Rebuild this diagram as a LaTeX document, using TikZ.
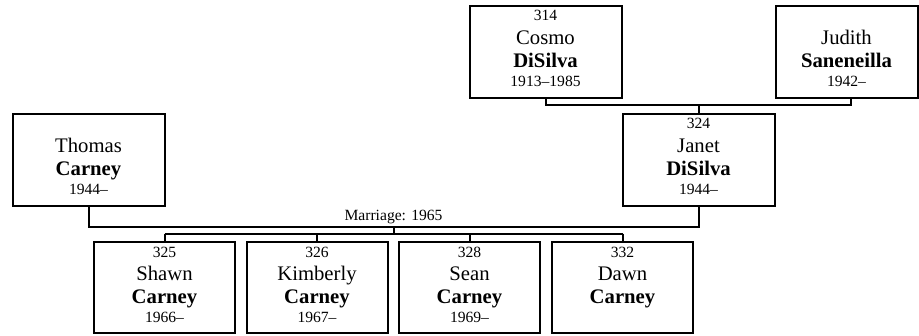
\documentclass[tikz,border=0pt]{standalone}
\usepackage{fontspec}
\setmainfont{Liberation Serif}
\usetikzlibrary{calc}

\newcommand\person[6][]{%
  \node[personbox,#1] (#2) at (#3) {};
  \node[smalltext] (#2-num) at ([yshift=-16]#2.north) {#4};
  \node[nametext] (#2-first) at ([yshift=-39.5]#2.north) {#5};
  \node[nametext,font=\namesize\bfseries] (#2-last) at ([yshift=-62.5]#2.north) {#6};
}
\newcommand\namesize{\fontsize{20.7}{24}\selectfont}
\newcommand\smallsize{\fontsize{15.6}{18}\selectfont}

\begin{document}
\begin{tikzpicture}[
  x=1pt,
  y=-1pt,
  line/.style={draw=black,line width=2pt},
  link/.style={line},
  personbox/.style={line,minimum width=152pt,minimum height=92pt,inner sep=0pt},
  childbox/.style={minimum width=141pt,minimum height=91pt},
  smalltext/.style={anchor=base,inner sep=0pt,font=\smallsize},
  nametext/.style={anchor=base,inner sep=0pt,font=\namesize}
]
\useasboundingbox (0,0) rectangle (919,335);

% Grandparents
\person{cosmo}{545.5,51.5}{314}{Cosmo}{DiSilva}
\node[smalltext] (cosmo-dates) at ([yshift=-82]cosmo.north) {1913--1985};
\person[minimum width=142pt]{judith}{846.5,51.5}{}{Judith}{Saneneilla}
\node[smalltext] (judith-dates) at ([yshift=-82]judith.north) {1942--};

% Parents
\person{thomas}{88.5,159.5}{}{Thomas}{Carney}
\node[smalltext] (thomas-dates) at ([yshift=-82]thomas.north) {1944--};
\person{janet}{698.5,159.5}{324}{Janet}{DiSilva}
\node[smalltext] (janet-dates) at ([yshift=-82]janet.north) {1944--};

% Children
\person[childbox]{shawn}{164.5,287.5}{325}{Shawn}{Carney}
\node[smalltext] (shawn-dates) at ([yshift=-81]shawn.north) {1966--};
\person[childbox]{kimberly}{317,287.5}{326}{Kimberly}{Carney}
\node[smalltext] (kimberly-dates) at ([yshift=-81]kimberly.north) {1967--};
\person[childbox]{sean}{469.5,287.5}{328}{Sean}{Carney}
\node[smalltext] (sean-dates) at ([yshift=-81]sean.north) {1969--};
\person[childbox]{dawn}{622.5,287.5}{332}{Dawn}{Carney}

% Cosmo + Judith -> Janet
\coordinate (cjbar) at ([yshift=-6]cosmo.south);
\draw[link] (cosmo.south) -- (cjbar) -| ([xshift=4.5]judith.south);
\draw[link] (janet.north) -- (janet.north |- cjbar);

% Thomas + Janet -> children
\coordinate (tjbar) at ([yshift=-20]thomas.south);
\draw[link] (thomas.south) -- (tjbar) -| (janet.south);
\coordinate (tjmid) at ($(tjbar)!0.5!(tjbar -| janet.south)$);
\node[smalltext] (marriage) at ([yshift=6]tjmid) {Marriage: 1965};
\coordinate (kidbar) at ([yshift=-7]tjmid);
\draw[link] (tjmid) -- (kidbar);
\draw[link] (shawn.north |- kidbar) -- (dawn.north |- kidbar);
\foreach \kid in {shawn,kimberly,sean,dawn}
  \draw[link] (\kid.north |- kidbar) -- (\kid.north);

\end{tikzpicture}
\end{document}
